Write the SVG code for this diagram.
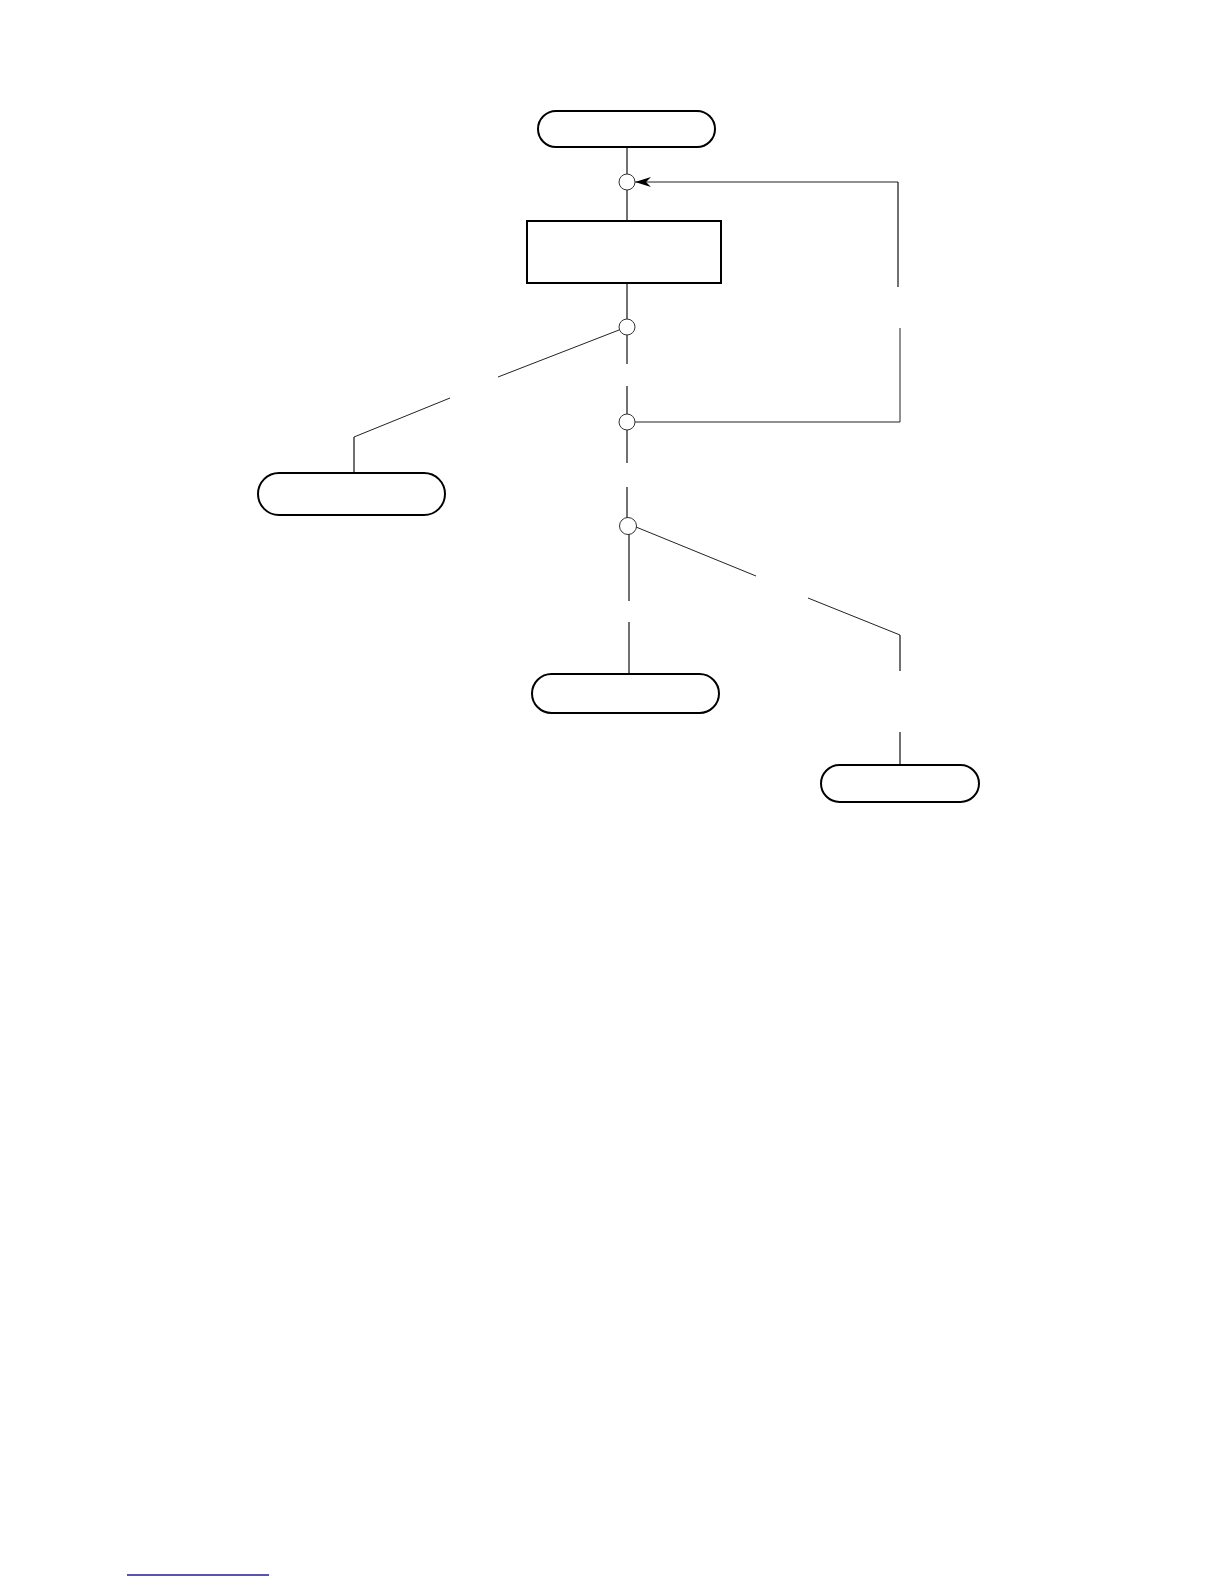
<svg xmlns="http://www.w3.org/2000/svg" width="1224" height="1584" viewBox="0 0 1224 1584">
  <style>
    .term { fill: #ffffff; stroke: #000000; stroke-width: 2; }
    .proc { fill: #ffffff; stroke: #000000; stroke-width: 2; }
    .junc { fill: #ffffff; stroke: #333333; stroke-width: 1; }
    .wire { fill: none; stroke: #111111; stroke-width: 1.2; }
    .thin { fill: none; stroke: #222222; stroke-width: 1; }
  </style>
  <defs>
    <marker id="arrow" viewBox="0 0 16 10" refX="16" refY="5" markerWidth="16" markerHeight="10" markerUnits="userSpaceOnUse" orient="auto">
      <path d="M16,5 L0,0 L5,5 L0,10 Z" fill="#000000"/>
    </marker>
  </defs>
  <rect width="1224" height="1584" fill="#ffffff"/>

  <g id="connectors">
    <path class="wire" d="M627,147 V174"/>
    <path class="wire" d="M627,190 V221"/>
    <path class="wire" d="M627,283 V319"/>
    <path class="wire" d="M627,335 V364"/>
    <path class="wire" d="M627,386 V414"/>
    <path class="wire" d="M627,430 V463"/>
    <path class="wire" d="M627,487 V518"/>
    <path class="wire" d="M629,534 V601"/>
    <path class="wire" d="M629,622 V674"/>
    <path class="thin" d="M619,330 L498,377"/>
    <path class="thin" d="M450,398 L354,437"/>
    <path class="wire" d="M354,437 V473"/>
    <path class="thin" d="M635,422 H900 V328"/>
    <path class="wire" d="M898,287 V182"/>
    <path class="thin" d="M898,182 H635" marker-end="url(#arrow)"/>
    <path class="thin" d="M636,527 L756,576"/>
    <path class="thin" d="M808,598 L900,635"/>
    <path class="wire" d="M900,635 V671"/>
    <path class="wire" d="M900,732 V765"/>
  </g>

  <g id="start">
    <rect class="term" x="538" y="111" width="177" height="36" rx="18"/>
  </g>
  <g id="process">
    <rect class="proc" x="527" y="221" width="194" height="62"/>
  </g>
  <g id="junction-1">
    <circle class="junc" cx="627" cy="182" r="8"/>
  </g>
  <g id="junction-2">
    <circle class="junc" cx="627" cy="327" r="8"/>
  </g>
  <g id="junction-3">
    <circle class="junc" cx="627" cy="422" r="8"/>
  </g>
  <g id="junction-4">
    <circle class="junc" cx="628" cy="526" r="8.5"/>
  </g>
  <g id="end-left">
    <rect class="term" x="258" y="473" width="187" height="42" rx="21"/>
  </g>
  <g id="end-center">
    <rect class="term" x="532" y="674" width="187" height="39" rx="19.5"/>
  </g>
  <g id="end-right">
    <rect class="term" x="821" y="765" width="158" height="37" rx="18.5"/>
  </g>

  <g id="footer">
    <line x1="127" y1="1575" x2="269" y2="1575" stroke="#1c1c99" stroke-width="1.5"/>
  </g>
</svg>
